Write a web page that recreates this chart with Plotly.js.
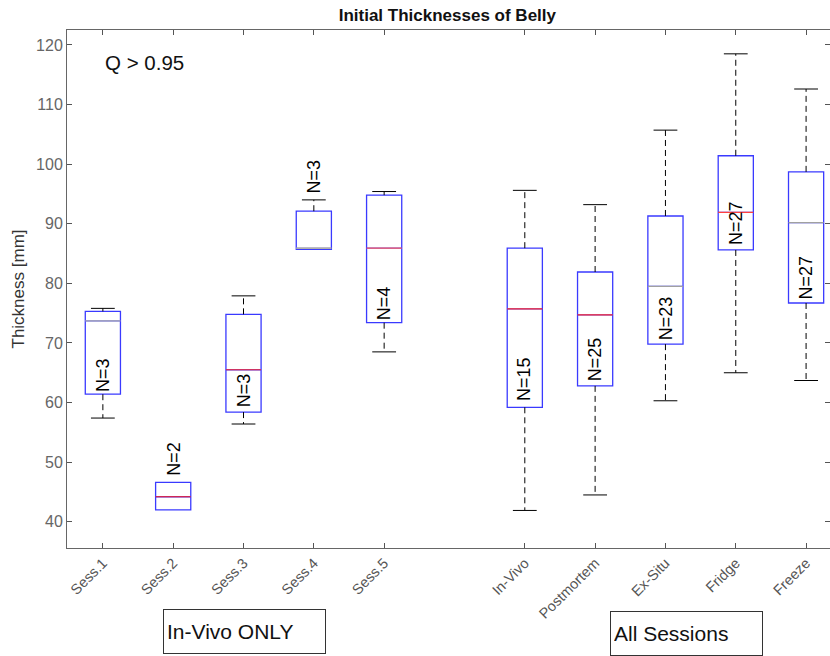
<!DOCTYPE html>
<html>
<head>
<meta charset="utf-8">
<script src="https://cdn.plot.ly/plotly-3.0.1.min.js"></script>
<style>html,body{margin:0;padding:0;background:#fff;}#chart{width:830px;height:656px;}</style>
</head>
<body>
<div id="chart"></div>
<script>
// ---- data ----
const categories = ['Sess.1','Sess.2','Sess.3','Sess.4','Sess.5','In-Vivo','Postmortem','Ex-Situ','Fridge','Freeze'];
const xPositions = [1, 2, 3, 4, 5, 7, 8, 9, 10, 11];
const lowerWhisker = [57.4, 42.0, 56.4, 85.7, 68.5, 41.9, 44.5, 60.3, 65.0, 63.7];
const q1Values     = [61.4, 42.0, 58.4, 85.7, 73.4, 59.2, 62.8, 69.8, 85.6, 76.7];
const medianValues = [73.7, 44.2, 65.5, 85.9, 85.9, 75.7, 74.7, 79.5, 91.9, 90.2];
const q3Values     = [75.3, 46.6, 74.8, 92.1, 94.8, 85.9, 81.9, 91.3, 101.4, 98.7];
const upperWhisker = [75.8, 46.6, 77.9, 94.0, 95.4, 95.6, 93.2, 105.7, 118.5, 112.6];
const nCounts      = [3, 2, 3, 3, 4, 15, 25, 23, 27, 27];
const yTicks = [40, 50, 60, 70, 80, 90, 100, 110, 120];

// ---- styles / label placement ----
const medianColors = ['#b0b0b0','#ff2020','#ff3030','#d8d890','#ff6060','#ff3030','#ff3030','#a0a0a0','#ff4040','#a0a0a0'];
const nLabelY = [64.6, 50.6, 62.0, 97.9, 76.7, 63.9, 67.3, 74.2, 90.1, 81.0];
const FONT = 'Liberation Sans, Arial, sans-serif';

const traces = [];

// whiskers (dashed)
const wx = [], wy = [];
xPositions.forEach((p, i) => {
  if (upperWhisker[i] > q3Values[i]) { wx.push(p, p, null); wy.push(q3Values[i], upperWhisker[i], null); }
  if (lowerWhisker[i] < q1Values[i]) { wx.push(p, p, null); wy.push(q1Values[i], lowerWhisker[i], null); }
});
traces.push({type:'scatter', mode:'lines', x:wx, y:wy, line:{color:'#000', width:1, dash:'6px,4px'}, hoverinfo:'skip', showlegend:false});

// whisker caps
const cx = [], cy = [];
xPositions.forEach((p, i) => {
  if (upperWhisker[i] > q3Values[i]) { cx.push(p); cy.push(upperWhisker[i]); }
  if (lowerWhisker[i] < q1Values[i]) { cx.push(p); cy.push(lowerWhisker[i]); }
});
traces.push({type:'scatter', mode:'markers', x:cx, y:cy, marker:{symbol:'line-ew', size:17, color:'#000', line:{color:'#000', width:1}}, hoverinfo:'skip', showlegend:false});

// boxes
traces.push({
  type:'box', x:xPositions, q1:q1Values, median:medianValues, q3:q3Values,
  lowerfence:q1Values, upperfence:q3Values, width:0.5, whiskerwidth:0,
  line:{color:'#3a3aff', width:1.3}, fillcolor:'rgba(0,0,0,0)', hoverinfo:'skip', showlegend:false
});

// medians (coloured), drawn as zero-height boxes
xPositions.forEach((p, i) => {
  traces.push({
    type:'box', x:[p], q1:[medianValues[i]], median:[medianValues[i]], q3:[medianValues[i]],
    lowerfence:[medianValues[i]], upperfence:[medianValues[i]], width:0.5, whiskerwidth:0,
    line:{color:medianColors[i], width:1.2}, fillcolor:'rgba(0,0,0,0)', hoverinfo:'skip', showlegend:false
  });
});

const annotations = [];
xPositions.forEach((p, i) => {
  annotations.push({x:p, y:nLabelY[i], xref:'x', yref:'y', text:'N=' + nCounts[i], textangle:-90,
    showarrow:false, font:{family:FONT, size:18, color:'#000'}});
});
annotations.push({xref:'paper', yref:'paper', x:0.047, y:0.938, xanchor:'left', yanchor:'middle',
  text:'Q &gt; 0.95', showarrow:false, font:{family:FONT, size:20.5, color:'#111'}});
annotations.push({xref:'paper', yref:'paper', x:0.232, y:-0.161, xanchor:'center', yanchor:'middle',
  text:'In-Vivo ONLY', showarrow:false, align:'left', width:155, height:37, borderpad:3, bordercolor:'#333', borderwidth:1,
  bgcolor:'#fff', font:{family:FONT, size:21, color:'#111'}});
annotations.push({xref:'paper', yref:'paper', x:0.812, y:-0.165, xanchor:'center', yanchor:'middle',
  text:'All Sessions', showarrow:false, align:'left', width:145, height:37, borderpad:3, bordercolor:'#333', borderwidth:1,
  bgcolor:'#fff', font:{family:FONT, size:21, color:'#111'}});

const layout = {
  width:830, height:656,
  margin:{l:67, r:0, t:30, b:108},
  paper_bgcolor:'#fff', plot_bgcolor:'#fff',
  boxmode:'overlay',
  showlegend:false,
  font:{family:FONT, color:'#333'},
  title:{text:'<b>Initial Thicknesses of Belly</b>', x:0.539, xanchor:'center', y:0.977, yanchor:'middle',
    font:{family:FONT, size:17, color:'#111'}},
  xaxis:{range:[0.49, 11.34], tickmode:'array', tickvals:xPositions, ticktext:categories, tickangle:-45,
    ticks:'inside', ticklen:5, tickcolor:'#555', showgrid:false, zeroline:false,
    showline:true, linecolor:'#666', linewidth:1, mirror:'ticks',
    tickfont:{size:14.5, color:'#555'}},
  yaxis:{range:[35.6, 122.5], tickmode:'array', tickvals:yTicks, ticks:'inside', ticklen:5, tickcolor:'#555',
    showgrid:false, zeroline:false, showline:true, linecolor:'#666', linewidth:1, mirror:'ticks',
    tickfont:{size:16, color:'#666'},
    title:{text:'Thickness [mm]', standoff:7, font:{size:17, color:'#333'}}},
  annotations:annotations
};

Plotly.newPlot('chart', traces, layout, {staticPlot:true, displayModeBar:false});
</script>
</body>
</html>
